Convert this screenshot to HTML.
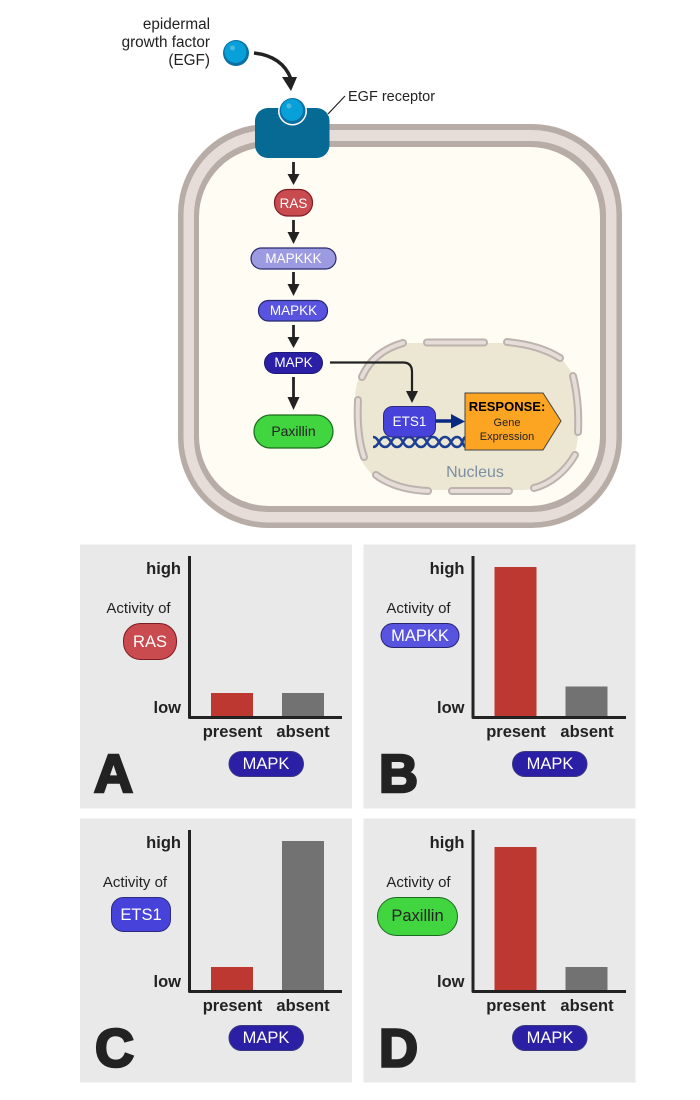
<!DOCTYPE html>
<html><head><meta charset="utf-8"><style>
html,body{margin:0;padding:0;background:#fff;width:700px;height:1100px;overflow:hidden}
svg{display:block}
text{font-family:"Liberation Sans",sans-serif;fill:#222}
.w{fill:#fff}
.h{font-weight:bold;font-size:16.5px;text-anchor:end}
.x{font-weight:bold;font-size:16.5px;text-anchor:middle}
.a{font-size:15px;text-anchor:middle}
.p{font-size:16.5px;text-anchor:middle}
.L{font-weight:bold;font-size:54px;stroke:#222;stroke-width:2.6px}
.ax{fill:none;stroke:#222;stroke-width:3;stroke-linejoin:round}
.ar{stroke:#222;stroke-width:2.8;fill:none}
</style></head><body>
<svg width="700" height="1100" viewBox="0 0 700 1100" xmlns="http://www.w3.org/2000/svg">
<rect width="700" height="1100" fill="#fff"/>
<!-- cell -->
<rect x="178" y="124" width="444" height="404" rx="90" fill="#b8aca6"/>
<rect x="183.500" y="130" width="433" height="392.500" rx="85" fill="#e6dcd8"/>
<rect x="194" y="141" width="412" height="371" rx="74" fill="#b8aca6"/>
<rect x="199" y="147" width="401" height="359" rx="70" fill="#fffcf4"/>
<!-- nucleus -->
<rect x="355" y="343" width="223" height="147" rx="56" fill="#ebe7d3"/>
<g fill="none" stroke-linecap="round">
<g stroke="#bdb3ae" stroke-width="8">
<path d="M362 377C369 361 382 349 403 343"/><path d="M427 342.500H484"/><path d="M507 342C528 344 546 349 560 358"/>
<path d="M573 376C577 392 579 410 578 432"/><path d="M358 400C357 420 358 440 364 457"/>
<path d="M376 475C388 484 405 490 428 491"/><path d="M452 491H509"/><path d="M534 488C550 484 565 472 575 455"/>
</g>
<g stroke="#e6dcd8" stroke-width="4">
<path d="M362 377C369 361 382 349 403 343"/><path d="M427 342.500H484"/><path d="M507 342C528 344 546 349 560 358"/>
<path d="M573 376C577 392 579 410 578 432"/><path d="M358 400C357 420 358 440 364 457"/>
<path d="M376 475C388 484 405 490 428 491"/><path d="M452 491H509"/><path d="M534 488C550 484 565 472 575 455"/>
</g>
</g>
<text x="475" y="477" style="font-size:16px;text-anchor:middle;fill:#7f8ea3">Nucleus</text>
<!-- DNA -->
<g fill="none" stroke="#1c3f94" stroke-width="2.500">
<path d="M373 447C379 447 379 437 385 437S391 447 397 447 403 437 409 437 415 447 421 447 427 437 433 437 439 447 445 447 451 437 457 437 462 447 466 447"/>
<path d="M373 437C379 437 379 447 385 447S391 437 397 437 403 447 409 447 415 437 421 437 427 447 433 447 439 437 445 437 451 447 457 447 462 437 466 437"/>
</g>
<!-- EGF top -->
<text style="font-size:15.3px;text-anchor:end"><tspan x="210" y="29">epidermal</tspan><tspan x="210" y="47">growth factor</tspan><tspan x="210" y="65">(EGF)</tspan></text>
<circle cx="236" cy="53" r="13" fill="#0a6fa3"/><circle cx="235.500" cy="52" r="11" fill="#08a0d8"/><circle cx="232.500" cy="48" r="2.500" fill="#4cb8dc"/>
<path d="M254 53C272 55 285 63 291 79" fill="none" stroke="#222" stroke-width="3.500"/>
<polygon points="282,77 297,77 291,91" fill="#222"/>
<!-- receptor -->
<path d="M328 114L345 96" stroke="#222" stroke-width="1.200" fill="none"/>
<text x="348" y="101" style="font-size:14.500px">EGF receptor</text>
<rect x="255" y="108" width="74.500" height="50" rx="13" fill="#066a95"/>
<circle cx="292.500" cy="111" r="14.500" fill="#fff"/>
<circle cx="292.500" cy="111" r="13" fill="#0a6fa3"/><circle cx="292" cy="110" r="11" fill="#08a0d8"/><circle cx="289" cy="106" r="2.500" fill="#4cb8dc"/>
<!-- pathway arrows -->
<g class="ar"><path d="M293.500 162V176"/><path d="M293.500 220V234"/><path d="M293.500 272V286"/><path d="M293.500 325V338"/><path d="M293.500 377V400"/></g>
<g fill="#222"><polygon points="287.500,174 299.500,174 293.500,185"/><polygon points="287.500,232 299.500,232 293.500,244"/><polygon points="287.500,284 299.500,284 293.500,296"/><polygon points="287.500,337 299.500,337 293.500,348"/><polygon points="287.500,397 299.500,397 293.500,410"/></g>
<!-- nodes -->
<rect x="274.500" y="189.500" width="38" height="26.500" rx="13" fill="#c94a4f" stroke="#7c1c24" stroke-width="1.200"/>
<text x="293.500" y="208" class="w" style="font-size:13.500px;text-anchor:middle">RAS</text>
<rect x="251" y="248" width="85" height="21" rx="10.500" fill="#9c9ae0" stroke="#2b2a6e" stroke-width="1.200"/>
<text x="293.500" y="263" class="w" style="font-size:13.500px;text-anchor:middle">MAPKKK</text>
<rect x="258.500" y="300.500" width="69" height="20.500" rx="10" fill="#5854e0" stroke="#26256e" stroke-width="1.200"/>
<text x="293.500" y="315" class="w" style="font-size:13.500px;text-anchor:middle">MAPKK</text>
<rect x="264.500" y="352.500" width="58" height="21" rx="10.500" fill="#2a1fa5" stroke="#1d1875" stroke-width="1"/>
<text x="293.500" y="367" class="w" style="font-size:13.500px;text-anchor:middle">MAPK</text>
<rect x="254" y="415" width="79" height="33" rx="16.500" fill="#41d53f" stroke="#1c6a1e" stroke-width="1.200"/>
<text x="293.500" y="436" style="font-size:14px;text-anchor:middle">Paxillin</text>
<!-- MAPK to ETS1 -->
<path d="M330 362.500H403Q412 362.500 412 372V392" fill="none" stroke="#222" stroke-width="2.200"/>
<polygon points="406,391 418,391 412,403" fill="#222"/>
<!-- ETS1 -->
<rect x="383.500" y="406.500" width="52" height="30.500" rx="9" fill="#4743da" stroke="#2d2a80" stroke-width="1"/>
<text x="409.500" y="426" class="w" style="font-size:13.500px;text-anchor:middle">ETS1</text>
<path d="M436 421H453" stroke="#0a2a82" stroke-width="3.500"/>
<polygon points="451,414 465,421.500 451,428.500" fill="#0a2a82"/>
<!-- Response -->
<polygon points="465,393 543,393 561,421 543,450 465,450" fill="#fba522" stroke="#444" stroke-width="1"/>
<text x="507" y="411" style="font-size:13px;font-weight:bold;text-anchor:middle;fill:#000">RESPONSE:</text>
<text x="507" y="426" style="font-size:11px;text-anchor:middle">Gene</text>
<text x="507" y="440" style="font-size:11px;text-anchor:middle">Expression</text>

<!-- Panel A -->
<rect x="80" y="544.500" width="272" height="264" fill="#e9e9e9"/>
<rect x="211" y="693" width="42" height="24" fill="#bd3830"/><rect x="282" y="693" width="42" height="24" fill="#727272"/>
<path class="ax" d="M189.500 556V717.500H342"/>
<text x="181" y="574" class="h">high</text><text x="181" y="713" class="h">low</text>
<text x="232.500" y="737" class="x">present</text><text x="303" y="737" class="x">absent</text>
<text x="138.500" y="613" class="a">Activity of</text>
<rect x="123.500" y="623.500" width="53" height="36" rx="17" fill="#c94a4f" stroke="#7c1c24" stroke-width="1"/>
<text x="150" y="647" class="p w">RAS</text>
<rect x="229" y="751.500" width="74.500" height="25" rx="12.500" fill="#2a1fa5" stroke="#3b3a80" stroke-width="1"/>
<text x="266" y="769" class="p w">MAPK</text>
<text x="94" y="792" class="L">A</text>

<!-- Panel B -->
<rect x="363.500" y="544.500" width="272" height="264" fill="#e9e9e9"/>
<rect x="494.500" y="567" width="42" height="150" fill="#bd3830"/><rect x="565.500" y="686.500" width="42" height="30.500" fill="#727272"/>
<path class="ax" d="M473 556V717.500H626"/>
<text x="464.500" y="574" class="h">high</text><text x="464.500" y="713" class="h">low</text>
<text x="516" y="737" class="x">present</text><text x="587" y="737" class="x">absent</text>
<text x="418.500" y="613" class="a">Activity of</text>
<rect x="381" y="623.500" width="78" height="24" rx="12" fill="#5854e0" stroke="#26256e" stroke-width="1"/>
<text x="420" y="641" class="p w">MAPKK</text>
<rect x="512.500" y="751.500" width="74.500" height="25" rx="12.500" fill="#2a1fa5" stroke="#3b3a80" stroke-width="1"/>
<text x="550" y="769" class="p w">MAPK</text>
<text x="379" y="792" class="L">B</text>

<!-- Panel C -->
<rect x="80" y="818.500" width="272" height="264" fill="#e9e9e9"/>
<rect x="211" y="967" width="42" height="24" fill="#bd3830"/><rect x="282" y="841" width="42" height="150" fill="#727272"/>
<path class="ax" d="M189.500 830V991.500H342"/>
<text x="181" y="848" class="h">high</text><text x="181" y="987" class="h">low</text>
<text x="232.500" y="1011" class="x">present</text><text x="303" y="1011" class="x">absent</text>
<text x="135" y="887" class="a">Activity of</text>
<rect x="111.500" y="897.500" width="59" height="34" rx="12" fill="#4743da" stroke="#2d2a80" stroke-width="1"/>
<text x="141" y="920" class="p w">ETS1</text>
<rect x="229" y="1025.500" width="74.500" height="25" rx="12.500" fill="#2a1fa5" stroke="#3b3a80" stroke-width="1"/>
<text x="266" y="1043" class="p w">MAPK</text>
<text x="95" y="1066.500" class="L">C</text>

<!-- Panel D -->
<rect x="363.500" y="818.500" width="272" height="264" fill="#e9e9e9"/>
<rect x="494.500" y="847" width="42" height="144" fill="#bd3830"/><rect x="565.500" y="967" width="42" height="24" fill="#727272"/>
<path class="ax" d="M473 830V991.500H626"/>
<text x="464.500" y="848" class="h">high</text><text x="464.500" y="987" class="h">low</text>
<text x="516" y="1011" class="x">present</text><text x="587" y="1011" class="x">absent</text>
<text x="418.500" y="887" class="a">Activity of</text>
<rect x="377.500" y="897.500" width="80" height="38" rx="19" fill="#41d53f" stroke="#1c6a1e" stroke-width="1"/>
<text x="417.500" y="921" class="p">Paxillin</text>
<rect x="512.500" y="1025.500" width="74.500" height="25" rx="12.500" fill="#2a1fa5" stroke="#3b3a80" stroke-width="1"/>
<text x="550" y="1043" class="p w">MAPK</text>
<text x="379" y="1066.500" class="L">D</text>
</svg>
</body></html>
